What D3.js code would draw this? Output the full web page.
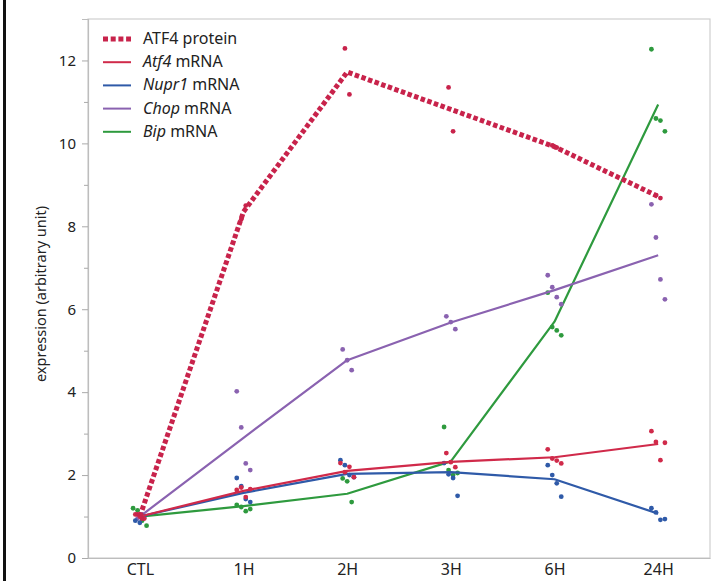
<!DOCTYPE html>
<html><head><meta charset="utf-8">
<script src="https://cdn.jsdelivr.net/npm/d3@7"></script>
<style>body{margin:0;background:#fff}svg{display:block}</style>
</head><body>
<script>
const categories = ["CTL","1H","2H","3H","6H","24H"];
const yTicks = [0,2,4,6,8,10,12];
const yMinor = [1,3,5,7,9,11];

const proteinMean = [1.0, 8.35, 11.72, 10.82, 9.92, 8.72];
const atf4Mean    = [1.0, 1.62, 2.10, 2.32, 2.43, 2.75];
const nupr1Mean   = [1.0, 1.57, 2.03, 2.07, 1.90, 1.07];
const chopMean    = [1.0, 2.90, 4.77, 5.68, 6.46, 7.30];
const bipMean     = [1.0, 1.25, 1.55, 2.33, 5.70, 10.94];

const proteinPts = [[1.05,0.95],[8.17,8.5],[12.29,11.18],[11.35,10.29],[9.95,9.9],[8.75,8.68]];
const atf4Pts  = [[1.05,1.0,0.95],[1.64,1.7,1.47,1.66],[2.29,2.07,2.2,1.95],[2.53,2.31,2.19],[2.62,2.4,2.35,2.28],[3.06,2.8,2.36,2.78]];
const nupr1Pts = [[0.9,0.85,1.0],[1.93,1.73,1.42,1.35],[2.36,2.24,2.0,1.95],[2.29,2.02,1.93,1.5],[2.24,2.0,1.8,1.48],[1.2,1.1,0.92,0.94]];
const chopPts  = [[0.95,1.05],[4.02,3.15,2.28,2.12],[5.03,4.77,4.53],[5.83,5.69,5.52],[6.82,6.53,6.29,6.12],[8.53,7.73,6.72,6.24]];
const bipPts   = [[1.2,1.15,0.9,0.78],[1.28,1.23,1.13,1.18],[1.92,1.85,1.35],[3.16,2.12,2.0,2.05],[6.4,5.57,5.49,5.37],[12.27,10.6,10.55,10.29]];

const seriesNames = ["ATF4 protein","Atf4","Nupr1","Chop","Bip"];
const colors = {"ATF4 protein":"#c8234b","Atf4":"#d02a4a","Nupr1":"#2f5aa8","Chop":"#8a62b0","Bip":"#2e9a3e"};

const W=715,H=581;
const svg=d3.select("body").append("svg").attr("width",W).attr("height",H);
svg.append("rect").attr("x",3).attr("y",0).attr("width",3).attr("height",H).attr("fill","#111");

const x=d3.scalePoint().domain(categories).range([88,710]).padding(0.5);
const y=d3.scaleLinear().domain([0,13]).range([558,19]);

svg.append("rect").attr("x",88).attr("y",19).attr("width",622).attr("height",539)
  .attr("fill","none").attr("stroke","#cfcfcf").attr("stroke-width",1.2);

const font="'Noto Sans', sans-serif";
svg.append("g").attr("transform","translate(88,0)")
  .call(d3.axisLeft(y).tickValues(yTicks).tickSize(6).tickPadding(6).tickFormat(d3.format("d")));
svg.append("g").attr("transform","translate(88,0)")
  .call(d3.axisLeft(y).tickValues(yMinor).tickSize(4).tickFormat(""))
  .call(g=>g.select(".domain").remove());
const xa=svg.append("g").attr("transform","translate(0,558)")
  .call(d3.axisBottom(x).tickSize(0).tickPadding(6));
svg.selectAll(".domain").attr("stroke","#bdbdbd").attr("stroke-width",1.2);
svg.selectAll(".tick line").attr("stroke","#aaa");
svg.selectAll(".tick text").attr("font-family",font).attr("font-size",15).attr("fill","#222");
xa.selectAll(".tick text").attr("font-size",16);

svg.append("text").attr("transform","translate(46,294) rotate(-90)").attr("text-anchor","middle")
  .attr("font-family",font).attr("font-size",14.5).attr("fill","#222").text("expression (arbitrary unit)");

const line=d3.line().x((d,i)=>x(categories[i])).y(d=>y(d));
function drawSeries(name, means, pts, dotted){
  const c=colors[name];
  const g=svg.append("g");
  const flat=[];
  pts.forEach((arr,i)=>arr.forEach((v,j)=>flat.push({cat:categories[i],v,off:(j-(arr.length-1)/2)*4.5})));
  g.selectAll("circle").data(flat).join("circle")
    .attr("cx",d=>x(d.cat)+d.off).attr("cy",d=>y(d.v)).attr("r",2.4).attr("fill",c);
  g.append("path").datum(means).attr("d",line).attr("fill","none").attr("stroke",c)
    .attr("stroke-width",dotted?5:2.2).attr("stroke-dasharray",dotted?"4.5,2.5":null)
    .attr("stroke-linejoin","round");
}
drawSeries("Bip",bipMean,bipPts,false);
drawSeries("Chop",chopMean,chopPts,false);
drawSeries("Nupr1",nupr1Mean,nupr1Pts,false);
drawSeries("Atf4",atf4Mean,atf4Pts,false);
drawSeries("ATF4 protein",proteinMean,proteinPts,true);

const leg=svg.append("g");
seriesNames.forEach((n,i)=>{
  const yy=38+i*23.2;
  leg.append("line").attr("x1",103).attr("x2",131).attr("y1",yy+1).attr("y2",yy+1)
    .attr("stroke",colors[n]).attr("stroke-width",i===0?5:2).attr("stroke-dasharray",i===0?"5,2.7":null);
  const t=leg.append("text").attr("x",143).attr("y",yy+6).attr("font-family",font).attr("font-size",16).attr("fill","#222");
  if(i===0){t.text(n);} else {
    t.append("tspan").attr("font-style","italic").text(n);
    t.append("tspan").text(" mRNA");
  }
});
</script>
</body></html>
